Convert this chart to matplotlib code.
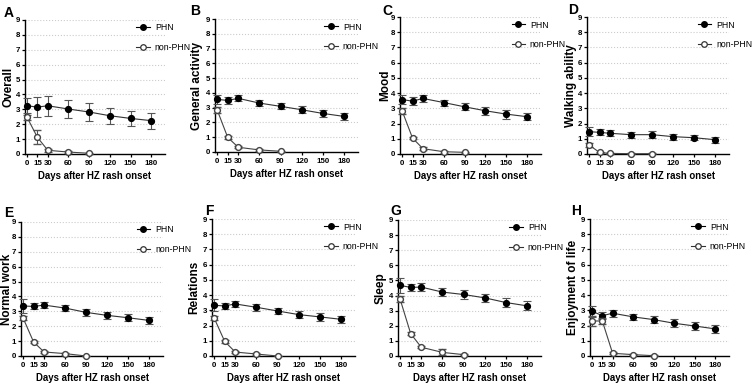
import matplotlib.pyplot as plt
from matplotlib.lines import Line2D

plt.rcParams["font.family"] = ["Liberation Sans", "DejaVu Sans"]

days_phn = [0, 15, 30, 60, 90, 120, 150, 180]
days_non = [0, 15, 30, 60, 90]
xticks = [0, 15, 30, 60, 90, 120, 150, 180]

letters = ["A", "B", "C", "D", "E", "F", "G", "H"]
ylabels = ["Overall", "General activity", "Mood", "Walking ability",
           "Normal work", "Relations", "Sleep", "Enjoyment of life"]

# PHN means / SEM
phn_mean = [
    [3.24, 3.15, 3.24, 3.02, 2.82, 2.57, 2.39, 2.24],
    [3.56, 3.49, 3.63, 3.31, 3.09, 2.86, 2.61, 2.41],
    [3.58, 3.47, 3.65, 3.38, 3.10, 2.84, 2.62, 2.45],
    [1.47, 1.42, 1.36, 1.27, 1.27, 1.14, 1.07, 0.94],
    [3.36, 3.33, 3.42, 3.22, 2.93, 2.73, 2.57, 2.39],
    [3.33, 3.29, 3.42, 3.20, 2.96, 2.72, 2.57, 2.41],
    [4.67, 4.54, 4.56, 4.23, 4.07, 3.85, 3.54, 3.32],
    [2.94, 2.65, 2.81, 2.57, 2.39, 2.15, 1.97, 1.78],
]
phn_err = [
    [0.50, 0.65, 0.67, 0.60, 0.58, 0.55, 0.52, 0.53],
    [0.30, 0.25, 0.20, 0.20, 0.20, 0.22, 0.25, 0.25],
    [0.30, 0.25, 0.22, 0.20, 0.22, 0.25, 0.30, 0.22],
    [0.30, 0.20, 0.20, 0.20, 0.25, 0.20, 0.18, 0.20],
    [0.45, 0.20, 0.22, 0.20, 0.25, 0.22, 0.25, 0.25],
    [0.40, 0.20, 0.22, 0.22, 0.22, 0.25, 0.25, 0.25],
    [0.50, 0.25, 0.28, 0.25, 0.28, 0.28, 0.30, 0.30],
    [0.35, 0.22, 0.22, 0.22, 0.22, 0.25, 0.25, 0.28],
]
# non-PHN means / SEM
non_mean = [
    [2.46, 1.12, 0.25, 0.13, 0.05],
    [2.86, 0.99, 0.32, 0.14, 0.05],
    [2.84, 1.05, 0.35, 0.15, 0.11],
    [0.59, 0.10, 0.04, 0.02, 0.02],
    [2.55, 0.94, 0.27, 0.16, 0.00],
    [2.50, 0.96, 0.26, 0.13, 0.00],
    [3.76, 1.48, 0.58, 0.24, 0.09],
    [2.30, 2.30, 0.18, 0.09, 0.02],
]
non_err = [
    [0.15, 0.47, 0.10, 0.06, 0.03],
    [0.20, 0.08, 0.08, 0.06, 0.03],
    [0.20, 0.08, 0.08, 0.06, 0.05],
    [0.15, 0.06, 0.03, 0.02, 0.02],
    [0.15, 0.08, 0.08, 0.06, 0.02],
    [0.15, 0.08, 0.08, 0.06, 0.02],
    [0.20, 0.12, 0.08, 0.20, 0.05],
    [0.30, 0.22, 0.08, 0.05, 0.02],
]

# axes boxes in pixels: left, right, top, bottom
boxes = [
    (25, 165, 20, 154), (215, 358, 19, 152), (400, 541, 17, 154), (587, 729, 17, 154),
    (21, 163, 222, 356), (212, 355, 219, 356), (398, 541, 220, 356), (590, 729, 219, 356),
]
ylabel_right = [15, 203, 391, 577, 13, 200, 387, 579]
legend_x = [0.771, 0.741, 0.766, 0.754, 0.789, 0.762, 0.755, 0.705]
letter_pos = [(4, 6), (190, 4), (382, 4), (568, 3), (4, 206), (205, 204), (390, 204), (571, 204)]

W, H = 753, 385
fig = plt.figure(figsize=(W / 100, H / 100), dpi=100)

h_phn = Line2D([], [], color="black", lw=0.8, marker="o", ms=4, mfc="black", mec="black")
h_non = Line2D([], [], color="#333333", lw=0.8, marker="o", ms=4, mfc="white", mec="#333333", mew=0.9)

for i in range(8):
    l, r, t, b = boxes[i]
    ax = fig.add_axes([l / W, 1 - b / H, (r - l) / W, (b - t) / H])
    ax.errorbar(days_phn, phn_mean[i], yerr=phn_err[i], color="#333333", lw=0.8,
                marker="o", ms=4.2, mfc="black", mec="black", ecolor="#555555",
                elinewidth=0.8, capsize=2.8, capthick=0.8, clip_on=False, zorder=3)
    ax.errorbar(days_non, non_mean[i], yerr=non_err[i], color="#444444", lw=0.8,
                marker="o", ms=4.2, mfc="white", mec="#444444", mew=1.0, ecolor="#555555",
                elinewidth=0.8, capsize=2.8, capthick=0.8, clip_on=False, zorder=4)
    ax.set_xlim(-3, 200)
    ax.set_ylim(0, 9)
    ax.set_xticks(xticks)
    ax.set_yticks(range(10))
    ax.grid(axis="y", ls=":", color="#cccccc", lw=0.8)
    ax.set_axisbelow(True)
    for s in ["top", "right"]:
        ax.spines[s].set_visible(False)
    for s in ["left", "bottom"]:
        ax.spines[s].set_linewidth(1.0)
    ax.tick_params(length=2.5, width=0.9, pad=1.5, labelsize=5.7)
    ax.tick_params(axis="y", pad=1)
    for lab in ax.get_xticklabels() + ax.get_yticklabels():
        lab.set_fontweight("bold")
    ax.set_xlabel("Days after HZ rash onset", fontsize=6.9, fontweight="bold", labelpad=3)
    ax.set_ylabel(ylabels[i], fontsize=8.5, fontweight="bold")
    ax.yaxis.set_label_coords((ylabel_right[i] - l) / (r - l), 0.5)
    ax.legend([h_phn, h_non], ["PHN", "non-PHN"], loc="upper left",
              bbox_to_anchor=(legend_x[i], 1.0), frameon=False, fontsize=6.3,
              handlelength=1.5, labelspacing=1.15, handletextpad=0.6, borderaxespad=0)
    fig.text(letter_pos[i][0] / W, 1 - letter_pos[i][1] / H, letters[i],
             fontsize=10, fontweight="bold", va="top", ha="left")

fig.savefig("out.png", dpi=100)
